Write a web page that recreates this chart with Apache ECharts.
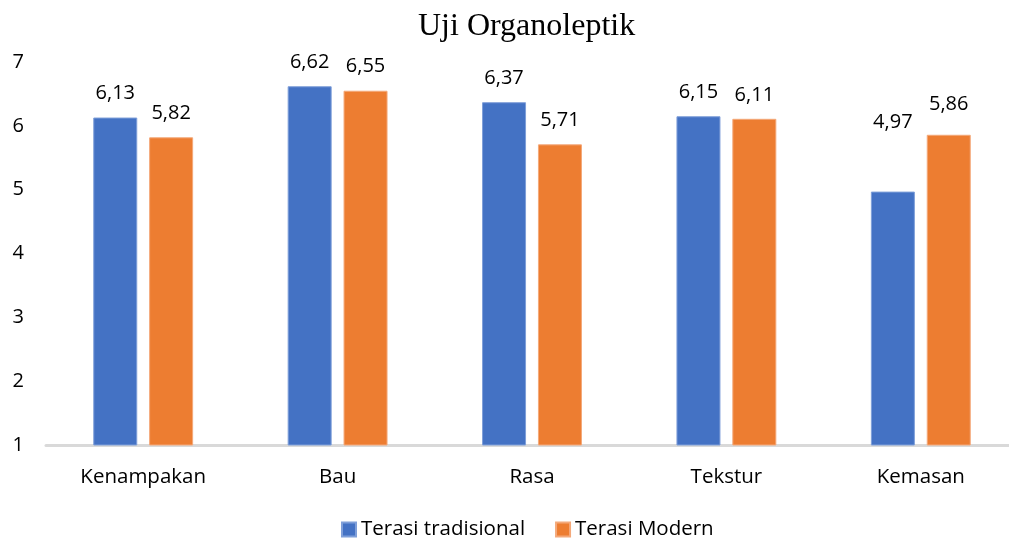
<!DOCTYPE html>
<html><head><meta charset="utf-8">
<script src="https://cdn.jsdelivr.net/npm/echarts@6/dist/echarts.min.js"></script>
<style>html,body{margin:0;padding:0;background:#fff}#c{width:1009px;height:542px}</style>
</head><body><div id="c"></div>
<script>
const categories = ['Kenampakan', 'Bau', 'Rasa', 'Tekstur', 'Kemasan'];
const tradisional = [6.13, 6.62, 6.37, 6.15, 4.97];
const modern = [5.82, 6.55, 5.71, 6.11, 5.86];
const seriesNames = ['Terasi tradisional', 'Terasi Modern'];
const yTicks = { min: 1, max: 7, interval: 1 };

// label nudges (manually moved labels in the original)
const tradOffsets = [0, 0, 0, 0, -45];
const modOffsets = [0, 0, 0, 0, -6];

const font = 'Open Sans, Liberation Sans, sans-serif';
const fmt = p => p.value.toFixed(2).replace('.', ',');
const withOffsets = (vals, offs) => vals.map((v, i) => offs[i] ? { value: v, label: { offset: [0, offs[i]] } } : v);
const chart = echarts.init(document.getElementById('c'));
chart.setOption({
  animation: false,
  title: { text: 'Uji Organoleptik', left: 413, top: 6,
    textStyle: { fontFamily: 'Liberation Serif, Times New Roman, serif', fontSize: 32, fontWeight: 'normal', color: '#000' } },
  legend: { bottom: -3, left: 336, itemWidth: 14, itemHeight: 14, itemGap: 30, icon: 'rect',
    textStyle: { fontFamily: font, fontSize: 20.5, color: '#000' } },
  grid: { left: 46, width: 972, top: 62, bottom: 97, outerBoundsMode: 'none', containLabel: false },
  xAxis: { type: 'category', data: categories,
    axisLine: { lineStyle: { color: '#d9d9d9', width: 3 } },
    axisTick: { show: false },
    axisLabel: { fontFamily: font, fontSize: 20.5, color: '#000', margin: 22 } },
  yAxis: { type: 'value', min: yTicks.min, max: yTicks.max, interval: yTicks.interval,
    splitLine: { show: false }, axisLine: { show: false }, axisTick: { show: false },
    axisLabel: { fontFamily: font, fontSize: 20, color: '#000', margin: 22 } },
  series: [
    { name: seriesNames[0], type: 'bar', data: withOffsets(tradisional, tradOffsets), barWidth: 44, barGap: '27%',
      itemStyle: { color: '#4472C4', borderColor: '#7f9fd9', borderWidth: 1 },
      label: { show: true, position: 'top', distance: 14, formatter: fmt, fontFamily: font, fontSize: 20, color: '#000' } },
    { name: seriesNames[1], type: 'bar', data: withOffsets(modern, modOffsets), barWidth: 44,
      itemStyle: { color: '#ED7D31', borderColor: '#f4a97a', borderWidth: 1 },
      label: { show: true, position: 'top', distance: 14, formatter: fmt, fontFamily: font, fontSize: 20, color: '#000' } }
  ]
});
</script></body></html>
